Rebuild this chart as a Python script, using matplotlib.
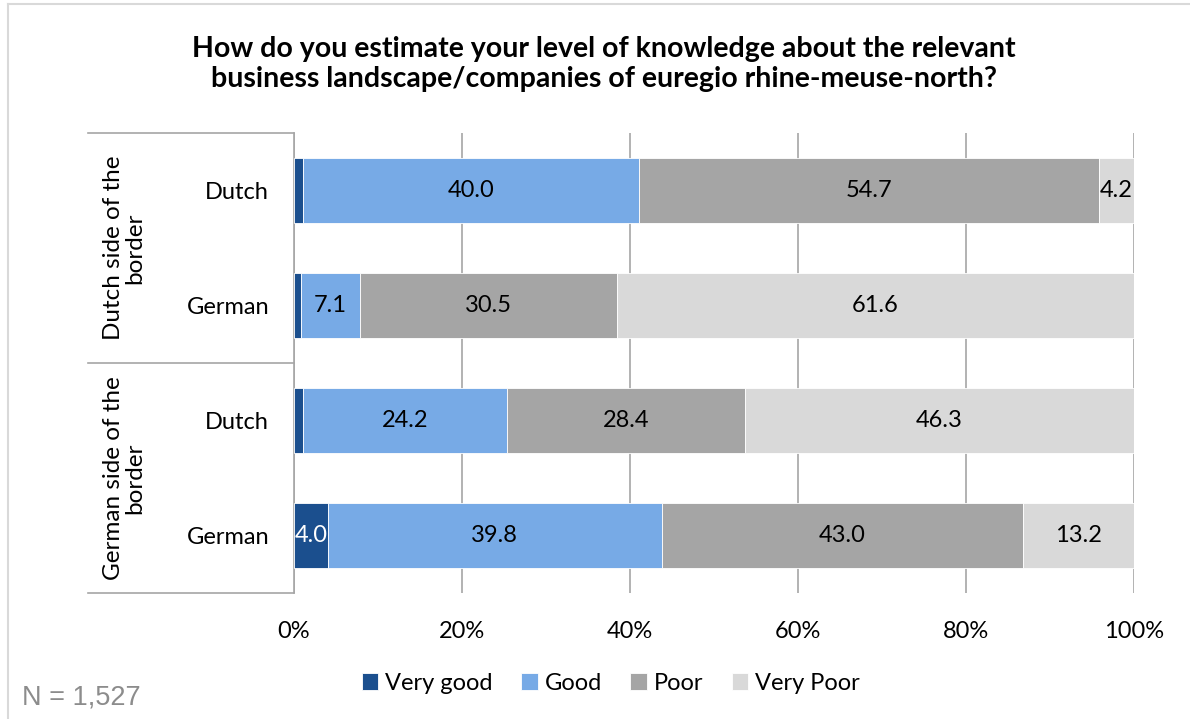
import matplotlib
matplotlib.use("Agg")
import matplotlib.pyplot as plt
from matplotlib.lines import Line2D
import numpy as np

plt.rcParams['font.family'] = ['Lato', 'DejaVu Sans']

# data
groups = ["Dutch side of the\nborder", "German side of the\nborder"]
rows = ["Dutch", "German", "Dutch", "German"]
series = ["Very good", "Good", "Poor", "Very Poor"]
very_good = [1.1, 0.8, 1.1, 4.0]
good = [40.0, 7.1, 24.2, 39.8]
poor = [54.7, 30.5, 28.4, 43.0]
very_poor = [4.2, 61.6, 46.3, 13.2]
colors = ["#1B4F8E", "#77AAE6", "#A5A5A5", "#D9D9D9"]
label_colors = ["white", "black", "black", "black"]

W, H = 1190, 719
fig = plt.figure(figsize=(W / 100, H / 100), dpi=100)
ax = fig.add_axes([294 / W, 1 - 593 / H, 840 / W, 460 / H])

y = np.arange(len(rows))
left = np.zeros(len(rows))
for vals, col, lc, name in zip([very_good, good, poor, very_poor], colors, label_colors, series):
    vals = np.array(vals)
    ax.barh(y, vals, left=left, height=0.57, color=col, edgecolor="white",
            linewidth=0.6, label=name, zorder=3)
    for yi, l, v in zip(y, left, vals):
        if v >= 2:
            ax.text(l + v / 2, yi, f"{v:.1f}", ha="center", va="center",
                    fontsize=17, color=lc, zorder=4)
    left += vals

ax.set_xlim(0, 100)
ax.set_ylim(3.5, -0.5)
ax.set_xticks(np.arange(0, 101, 20))
ax.set_xticklabels([f"{t}%" for t in range(0, 101, 20)], fontsize=17)
ax.set_yticks(y)
ax.set_yticklabels(rows, fontsize=17)
ax.tick_params(axis="y", length=0, pad=18)
ax.tick_params(axis="x", length=0, pad=20)
ax.grid(axis="x", color="#A6A6A6", linewidth=1.2, zorder=0)
for s in ["top", "right", "bottom"]:
    ax.spines[s].set_visible(False)
ax.spines["left"].set_color("#A6A6A6")
ax.spines["left"].set_linewidth(1.2)

# group separators and labels
for yy in [133, 363, 593]:
    fig.add_artist(Line2D([88 / W, 294 / W], [1 - yy / H, 1 - yy / H],
                          color="#A6A6A6", linewidth=1.2))
for g, yc in zip(groups, [248, 478]):
    fig.text(124 / W, 1 - yc / H, g, rotation=90, ha="center", va="center",
             fontsize=17.5, linespacing=1.05)

fig.text(604 / W, 1 - 64 / H,
         "How do you estimate your level of knowledge about the relevant\n"
         "business landscape/companies of euregio rhine-meuse-north?",
         ha="center", va="center", fontsize=20.5, fontweight="bold", linespacing=1.2)

fig.legend(loc="center", bbox_to_anchor=(611 / W, 1 - 683 / H), ncol=4,
           frameon=False, fontsize=17, handlelength=0.7, handleheight=0.7,
           handletextpad=0.3, columnspacing=1.2)

fig.text(22 / W, 1 - 697 / H, "N = 1,527", ha="left", va="center",
         fontsize=19.5, color="#8C8C8C", family="Liberation Sans")

# chart border
fig.add_artist(Line2D([8 / W, 1], [1 - 4 / H, 1 - 4 / H], color="#D9D9D9", linewidth=1.5))
fig.add_artist(Line2D([8 / W, 8 / W], [0, 1 - 4 / H], color="#D9D9D9", linewidth=1.5))

fig.savefig("out.png", dpi=100)
